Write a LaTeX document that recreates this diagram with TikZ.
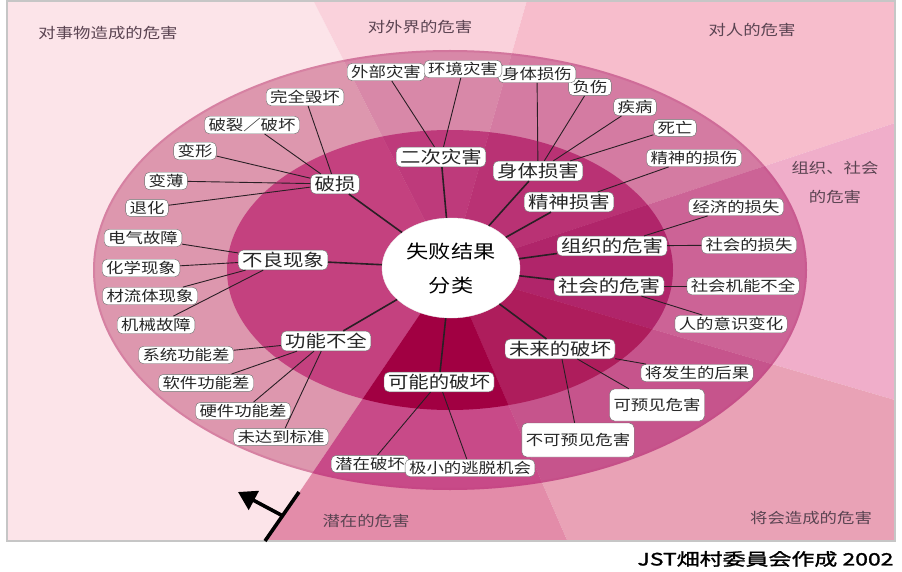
\documentclass[tikz,border=0pt]{standalone}
\usepackage{fontspec}
\newfontfamily\cjk[FakeStretch=1.2]{Noto Sans CJK SC}
\newfontfamily\jpcap[FakeStretch=1.35,FakeBold=1.5]{Noto Sans CJK JP}
\usetikzlibrary{arrows.meta,shapes.geometric}

% fondo, anello esterno, anello interno
\definecolor{bgA}{HTML}{FCE4E9}
\definecolor{bgB}{HTML}{FAD2DC}
\definecolor{bgC}{HTML}{F7BDCC}
\definecolor{bgD}{HTML}{F0AECA}
\definecolor{bgE}{HTML}{E9A2B6}
\definecolor{bgF}{HTML}{E38CA9}
\definecolor{rgA}{HTML}{DD97AE}
\definecolor{rgB}{HTML}{D888A8}
\definecolor{rgC}{HTML}{D47BA2}
\definecolor{rgD}{HTML}{CC6396}
\definecolor{rgE}{HTML}{C6548C}
\definecolor{rgF}{HTML}{C84A88}
\definecolor{mdA}{HTML}{C4417F}
\definecolor{mdB}{HTML}{BE3A7B}
\definecolor{mdC}{HTML}{B93274}
\definecolor{mdD}{HTML}{B0256A}
\definecolor{mdE}{HTML}{AE1D5C}
\definecolor{mdF}{HTML}{A10042}
\definecolor{zonatext}{HTML}{5B4452}
\definecolor{linea}{HTML}{2A1F25}

\tikzset{
  leaf/.style={draw=gray!85!black, fill=white, rounded corners=5pt,
    inner sep=2pt, inner xsep=4pt, text=black!85,
    font=\cjk\fontsize{14.5}{16}\selectfont},
  cat/.style={leaf, font=\cjk\fontsize{17}{19}\selectfont},
  zona/.style={text=zonatext, font=\cjk\fontsize{14.5}{16}\selectfont},
  ctrnode/.style={ellipse, fill=white, draw=white!85!gray, align=center,
    minimum width=138, minimum height=100, inner sep=0pt,
    font=\cjk\fontsize{18.5}{34}\selectfont},
  link/.style={draw=linea, line width=0.9pt},
  hub/.style={draw=linea, line width=1.6pt},
}

\def\wA{(450,270) -- (84,810) -- (-600,810) -- (-600,-300) -- (176,-270) -- cycle}
\def\wB{(450,270) -- (176,-270) -- (604,-270) -- cycle}
\def\wC{(450,270) -- (604,-270) -- (1400,-300) -- (1340,-24) -- cycle}
\def\wD{(450,270) -- (1340,-24) -- (1340,530) -- cycle}
\def\wE{(450,270) -- (1340,530) -- (1400,900) -- (684,810) -- cycle}
\def\wF{(450,270) -- (684,810) -- (84,810) -- cycle}

\begin{document}
\begin{tikzpicture}[x=1pt,y=-1pt]
  \useasboundingbox (0,0) rectangle (902,572);
  \fill[white] (0,0) rectangle (902,572);

  % settori
  \begin{scope}
    \clip (7,1) rectangle (895,541);
    \foreach \w/\c in {\wA/bgA,\wB/bgB,\wC/bgC,\wD/bgD,\wE/bgE,\wF/bgF}
      \fill[\c] \w;
  \end{scope}
  \begin{scope}
    \clip (450,270) ellipse [x radius=357, y radius=220];
    \foreach \w/\c in {\wA/rgA,\wB/rgB,\wC/rgC,\wD/rgD,\wE/rgE,\wF/rgF}
      \fill[\c] \w;
  \end{scope}
  \draw[mdA, opacity=0.25, line width=2pt] (450,270) ellipse [x radius=356, y radius=219];
  \begin{scope}
    \clip (450,270) ellipse [x radius=223, y radius=140];
    \foreach \w/\c in {\wA/mdA,\wB/mdB,\wC/mdC,\wD/mdD,\wE/mdE,\wF/mdF}
      \fill[\c] \w;
  \end{scope}
  \draw[gray!45, line width=1.2pt] (7,1) rectangle (895,541);

  % zone
  \node[zona] (zthing) at (108,33) {对事物造成的危害};
  \node[zona] (zouter) at (420,27) {对外界的危害};
  \node[zona] (zhuman) at (752,30) {对人的危害};
  \node[zona, align=center, font=\cjk\fontsize{14.5}{29}\selectfont]
    (zsoc) at (835,182) {组织、社会\\的危害};
  \node[zona] (zlatent) at (366,521) {潜在的危害};
  \node[zona] (zfuture) at (811,518) {将会造成的危害};
  \node[font=\jpcap\fontsize{17}{19}\selectfont, anchor=east]
    (credit) at (897,559) {JST畑村委員会作成 2002};

  % freccia
  \draw[line width=3.6pt] (299,492) -- (265,541);
  \draw[line width=3.6pt, -{Triangle[length=18pt,width=21pt]}] (283,516) -- (238,492);

  \node[ctrnode] (ctr) at (451,268) {失败结果\\分类};

  % categorie
  \node[cat] (poss)     at (335,184) {破损};
  \node[cat] (buliang)  at (283,260) {不良现象};
  \node[cat] (gongneng) at (326,341) {功能不全};
  \node[cat] (erci)     at (441,157) {二次灾害};
  \node[cat] (shenti)   at (538,171) {身体损害};
  \node[cat] (jingshen) at (569,202) {精神损害};
  \node[cat] (zuzhi)    at (612,246) {组织的危害};
  \node[cat] (shehui)   at (609,286) {社会的危害};
  \node[cat] (weilai)   at (560,349) {未来的破坏};
  \node[cat] (keneng)   at (439,382) {可能的破坏};

  % foglie
  \node[leaf] (wanquan)  at (305,97)  {完全毁坏};
  \node[leaf] (polie)    at (252,125) {破裂／破坏};
  \node[leaf] (bianxing) at (195,151) {变形};
  \node[leaf] (bianbo)   at (166,181) {变薄};
  \node[leaf] (tuihua)   at (147,208) {退化};
  \node[leaf] (dianqi)   at (143,238) {电气故障};
  \node[leaf] (huaxue)   at (141,268) {化学现象};
  \node[leaf] (liuti)    at (150,296) {材流体现象};
  \node[leaf] (jixie)    at (156,325) {机械故障};
  \node[leaf] (xitong)   at (186,355) {系统功能差};
  \node[leaf] (ruanjian) at (206,383) {软件功能差};
  \node[leaf] (yingjian) at (243,411) {硬件功能差};
  \node[leaf] (weida)    at (281,437) {未达到标准};
  \node[leaf] (qianzai)  at (370,464) {潜在破坏};
  \node[leaf] (jixiao)   at (470,468) {极小的逃脱机会};
  \node[leaf] (jiangfa)  at (697,373) {将发生的后果};
  \node[leaf, minimum height=32] (keyujian) at (657,405) {可预见危害};
  \node[leaf, minimum height=34] (bukeyujian) at (578,440) {不可预见危害};
  \node[leaf] (jingji)   at (736,207) {经济的损失};
  \node[leaf] (shehuisun) at (749,245) {社会的损失};
  \node[leaf] (jineng)   at (743,286) {社会机能不全};
  \node[leaf] (yishi)    at (731,324) {人的意识变化};
  \node[leaf] (jingshenshang) at (694,158) {精神的损伤};
  \node[leaf] (siwang)   at (675,128) {死亡};
  \node[leaf] (jibing)   at (635,107) {疾病};
  \node[leaf] (fushang)  at (590,87)  {负伤};
  \node[leaf] (shentishang) at (537,74) {身体损伤};
  \node[leaf] (waibu)    at (386,72)  {外部灾害};
  \node[leaf] (huanjing) at (463,69)  {环境灾害};

  % collegamenti
  \foreach \c in {poss,buliang,gongneng,erci,shenti,jingshen,zuzhi,shehui,weilai,keneng}
    \draw[hub] (ctr) -- (\c);
  \foreach \p/\f in {poss/wanquan, poss/polie, poss/bianxing, poss/bianbo, poss/tuihua,
      buliang/dianqi, buliang/huaxue, buliang/liuti, buliang/jixie,
      gongneng/xitong, gongneng/ruanjian, gongneng/yingjian, gongneng/weida,
      erci/waibu, erci/huanjing,
      shenti/shentishang, shenti/fushang, shenti/jibing, shenti/siwang,
      jingshen/jingshenshang, zuzhi/jingji, zuzhi/shehuisun,
      shehui/jineng, shehui/yishi,
      weilai/jiangfa, weilai/keyujian, weilai/bukeyujian,
      keneng/qianzai, keneng/jixiao}
    \draw[link] (\p) -- (\f);
\end{tikzpicture}
\end{document}
